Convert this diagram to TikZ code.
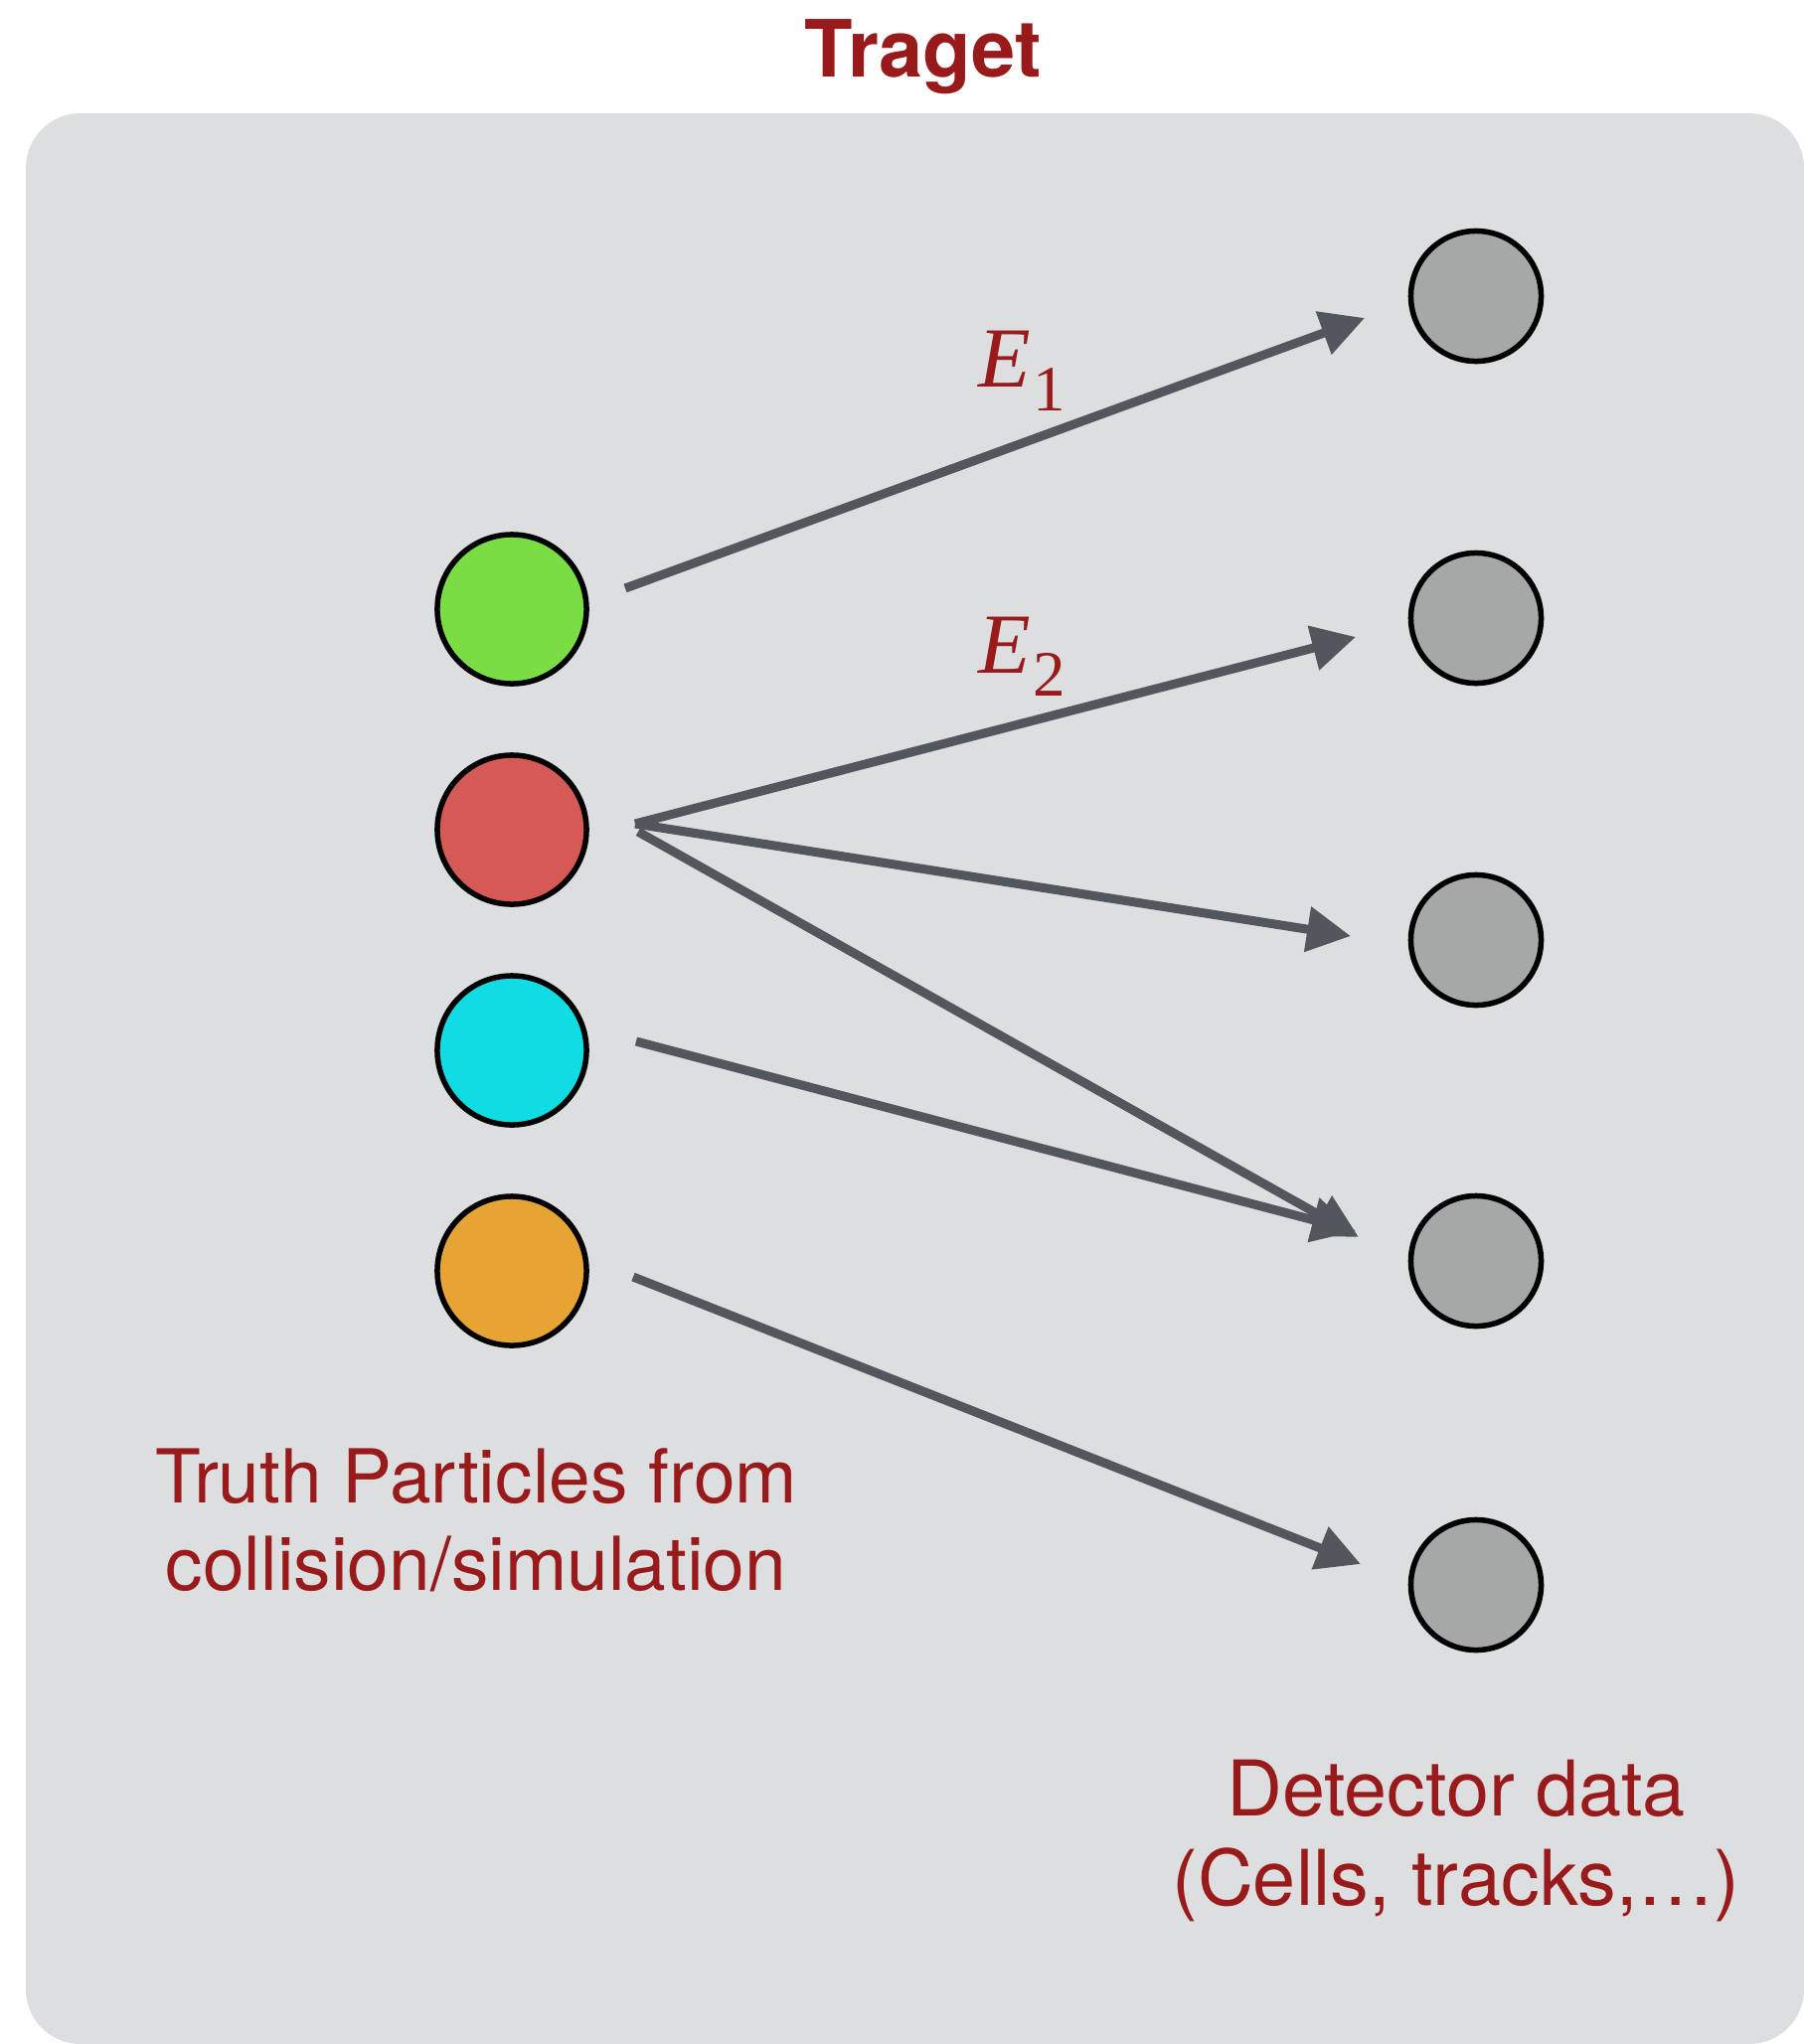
\documentclass[tikz,border=0pt]{standalone}
\usepackage{fontspec}
\setmainfont{TeX Gyre Heros}
\newfontfamily\timesf{Liberation Serif}
\usetikzlibrary{arrows.meta,calc}
\definecolor{txtred}{HTML}{981A1A}
\definecolor{boxgray}{HTML}{DDDEE0}
\definecolor{arrowgray}{HTML}{52575D}
\definecolor{cgreen}{HTML}{7ADD44}
\definecolor{cred}{HTML}{D55A55}
\definecolor{ccyan}{HTML}{10DCE3}
\definecolor{corange}{HTML}{E6A433}
\definecolor{cgray}{HTML}{A5A8A7}
\tikzset{
  particle/.style={circle, draw=black, line width=0.055cm, minimum size=1.50cm, inner sep=0pt},
  detcell/.style={circle, draw=black, line width=0.055cm, fill=cgray, minimum size=1.31cm, inner sep=0pt},
  conn/.style={draw=arrowgray, line width=0.09cm, -{Triangle[length=0.44cm,width=0.44cm]}},
  label/.style={text=txtred, align=center, inner sep=0pt},
  elabel/.style={text=txtred, inner sep=0pt, anchor=base west},
}
\begin{document}
\begin{tikzpicture}[x=0.01cm,y=-0.01cm]
\useasboundingbox (0,0) rectangle (1815,2057);
\fill[boxgray, rounded corners=0.55cm] (26,114) rectangle (1815,2057);
\node[text=txtred, font=\fontsize{22.6pt}{26pt}\selectfont\bfseries, anchor=base, inner sep=0pt] (title) at (929,77) {Traget};

\node[particle, fill=cgreen] (g) at (515,613) {};
\node[particle, fill=cred] (rd) at (515,835) {};
\node[particle, fill=ccyan] (c) at (515,1057) {};
\node[particle, fill=corange] (o) at (515,1279) {};

\node[detcell] (r1) at (1485,298) {};
\node[detcell] (r2) at (1485,622) {};
\node[detcell] (r3) at (1485,946) {};
\node[detcell] (r4) at (1485,1269) {};
\node[detcell] (r5) at (1485,1595) {};

\coordinate (s1) at ($(g.center)+(114,-21)$);
\coordinate (t1) at ($(r1.center)+(-112,22)$);
\coordinate (s2) at ($(rd.center)+(124,-6)$);
\coordinate (t2) at ($(r2.center)+(-121,19)$);
\coordinate (t3) at ($(r3.center)+(-126,-4)$);
\coordinate (s4) at ($(rd.center)+(127,2)$);
\coordinate (t4) at ($(r4.center)+(-118,-24)$);
\coordinate (s5) at ($(c.center)+(125,-9)$);
\coordinate (t5) at ($(r4.center)+(-121,-30)$);
\coordinate (s6) at ($(o.center)+(122,6)$);
\coordinate (t6) at ($(r5.center)+(-116,-21)$);

\draw[conn] (s1) -- (t1);
\draw[conn] (s2) -- (t2);
\draw[conn] (s2) -- (t3);
\draw[conn] (s4) -- (t4);
\draw[conn] (s5) -- (t5);
\draw[conn] (s6) -- (t6);

\node[elabel] (e1) at (984,389) {\timesf\fontsize{24.5pt}{28pt}\selectfont\itshape E\kern0.02cm\raisebox{-0.24cm}{\upshape\fontsize{18.5pt}{20pt}\selectfont 1}};
\node[elabel] (e2) at (984,677) {\timesf\fontsize{24.5pt}{28pt}\selectfont\itshape E\kern0.02cm\raisebox{-0.23cm}{\upshape\fontsize{18.5pt}{20pt}\selectfont 2}};

\node[label, font=\fontsize{21.3pt}{25pt}\selectfont, anchor=base] (truth) at (479,1600) {Truth Particles from\\collision/simulation};
\node[label, font=\fontsize{22pt}{25.6pt}\selectfont, anchor=base] (det) at (1465,1917) {Detector data\\(Cells, tracks,…)};
\end{tikzpicture}
\end{document}
